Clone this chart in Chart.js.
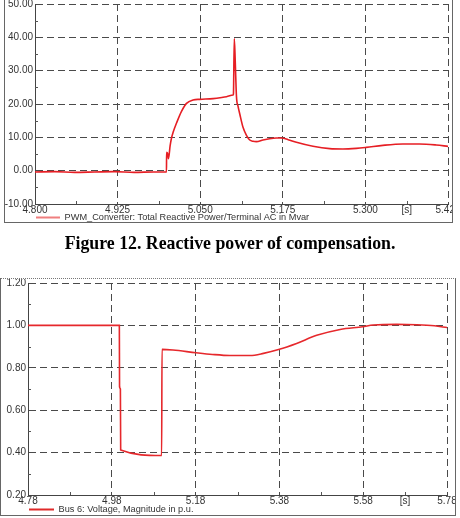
<!DOCTYPE html>
<html><head><meta charset="utf-8">
<script src="https://cdn.jsdelivr.net/npm/chart.js@4.4.0/dist/chart.umd.min.js"></script>
<style>
html,body{margin:0;padding:0;background:#fff;width:460px;height:518px;overflow:hidden;}
body{position:relative;}
canvas{position:absolute;}
.frame{position:absolute;box-sizing:border-box;border:1px solid #666;pointer-events:none;}
#cap{position:absolute;left:0;width:460px;text-align:center;font:bold 17.8px "Liberation Serif","Times New Roman",serif;line-height:18px;color:#000;white-space:nowrap;}
</style></head><body>
<canvas id="c1" width="452" height="232" style="left:0;top:0"></canvas>
<div class="frame" style="left:4px;top:-1px;width:449px;height:224px;border-top:none"></div>
<div id="cap" style="top:234px">Figure 12. Reactive power of compensation.</div>
<canvas id="c2" width="455" height="245" style="left:0;top:279px"></canvas>
<div class="frame" style="left:0;top:278px;width:456px;height:238px;border-top:1px dotted #777"></div>
<script>
// ---- Chart 1: reactive power (Mvar) ----
const qTime = [4.800, 4.830, 4.860, 4.890, 4.920, 4.950, 4.980, 4.999, 4.9991, 5.0005, 5.0020, 5.0045, 5.0066, 5.0090, 5.0142, 5.0217, 5.0293, 5.0393, 5.0494, 5.0695, 5.0898, 5.0995, 5.1003, 5.1016, 5.1030, 5.1049, 5.1073, 5.1099, 5.1148, 5.1200, 5.1250, 5.1300, 5.1350, 5.1450, 5.1550, 5.1650, 5.1730, 5.1830, 5.1956, 5.2207, 5.2459, 5.2660, 5.2863, 5.3014, 5.3265, 5.3567, 5.3819, 5.4072, 5.4250];
const qVal = [-0.4, -0.3, -0.5, -0.4, -0.3, -0.5, -0.4, -0.4, 5.5, 5.2, 3.6, 7.5, 9.8, 11.5, 14.3, 17.8, 20.2, 21.2, 21.4, 21.6, 22.2, 22.7, 23.0, 39.6, 33.0, 22.2, 19.3, 17.0, 13.0, 10.6, 9.2, 8.8, 8.7, 9.2, 9.6, 9.8, 9.8, 9.3, 8.5, 7.3, 6.6, 6.5, 6.7, 7.0, 7.6, 8.0, 8.0, 7.7, 7.3];
const qXTicks = [4.800, 4.925, 5.050, 5.175, 5.300, 5.3625, 5.425];
const qUnitTick = 5.3625;
const qYTicks = [-10, 0, 10, 20, 30, 40, 50];
const qXMinor = [4.8625, 4.9875, 5.1125, 5.2375, 5.3625];
const qYMinor = [-5, 5, 15, 25, 35, 45];
const qLabel = 'PWM_Converter: Total Reactive Power/Terminal AC in Mvar';

// ---- Chart 2: bus voltage (p.u.) ----
const vTime = [4.780, 4.900, 4.998, 4.9985, 5.0005, 5.0012, 5.0990, 5.0998, 5.126, 5.181, 5.220, 5.262, 5.310, 5.342, 5.380, 5.421, 5.469, 5.525, 5.579, 5.604, 5.660, 5.708, 5.750, 5.780];
const vVal = [1.00, 1.00, 1.00, 0.71, 0.70, 0.412, 0.386, 0.887, 0.884, 0.871, 0.863, 0.858, 0.858, 0.868, 0.887, 0.915, 0.953, 0.981, 0.994, 1.002, 1.005, 1.003, 0.998, 0.990];
const vXTicks = [4.78, 4.98, 5.18, 5.38, 5.58, 5.68, 5.78];
const vUnitTick = 5.68;
const vYTicks = [0.2, 0.4, 0.6, 0.8, 1.0, 1.2];
const vXMinor = [4.88, 5.08, 5.28, 5.48, 5.68];
const vYMinor = [0.3, 0.5, 0.7, 0.9, 1.1];
const vLabel = 'Bus 6: Voltage, Magnitude in p.u.';

const FONT = '"Liberation Sans", Arial, sans-serif';

const minorTicks = {
  id: 'minorTicks',
  afterDraw(chart, args, opts) {
    const {ctx, chartArea} = chart;
    const x = chart.scales.x, y = chart.scales.y;
    ctx.save();
    ctx.strokeStyle = '#555';
    ctx.lineWidth = 1;
    ctx.beginPath();
    opts.xMinor.forEach(v => {
      const px = Math.round(x.getPixelForValue(v)) + 0.5;
      ctx.moveTo(px, chartArea.bottom);
      ctx.lineTo(px, chartArea.bottom - 3);
    });
    opts.yMinor.forEach(v => {
      const py = Math.round(y.getPixelForValue(v)) + 0.5;
      ctx.moveTo(chartArea.left, py);
      ctx.lineTo(chartArea.left + 3, py);
    });
    ctx.stroke();
    ctx.restore();
  }
};

function build(id, o) {
  const isUnit = v => Math.abs(v - o.unitTick) < 1e-9;
  return new Chart(document.getElementById(id), {
    type: 'line',
    data: {
      datasets: [{
        label: o.label,
        data: o.time.map((t, i) => ({x: t, y: o.val[i]})),
        borderColor: o.color,
        backgroundColor: o.legendColor,
        borderWidth: 1.6,
        pointRadius: 0,
        cubicInterpolationMode: 'monotone',
        fill: false
      }]
    },
    options: {
      responsive: false,
      animation: false,
      devicePixelRatio: 1,
      layout: {padding: o.padding},
      plugins: {
        tooltip: {enabled: false},
        legend: {
          position: 'bottom',
          align: 'start',
          fullSize: false,
          labels: {
            boxWidth: o.boxW,
            boxHeight: 2,
            padding: 1,
            color: '#333',
            font: {family: FONT, size: 9.2},
            generateLabels(chart) {
              const items = Chart.defaults.plugins.legend.labels.generateLabels(chart);
              items.forEach(it => { it.lineWidth = 0; it.fillStyle = o.legendColor; });
              return items;
            }
          }
        },
        minorTicks: {xMinor: o.xMinor, yMinor: o.yMinor}
      },
      scales: {
        x: {
          type: 'linear',
          min: o.xTicks[0],
          max: o.xTicks[o.xTicks.length - 1],
          afterBuildTicks: s => { s.ticks = o.xTicks.map(v => ({value: v})); },
          afterFit: s => {
            s.height = o.xH; s.paddingLeft = 0; s.paddingRight = 0;
            // let the tick labels overlap the legend row, as in the original plot
            s._computeLabelArea = () => undefined;
          },
          ticks: {
            autoSkip: false, maxRotation: 0, minRotation: 0, padding: 0,
            color: '#333', font: {family: FONT, size: 10},
            callback: v => isUnit(v) ? '[s]' : v.toFixed(o.xDec)
          },
          grid: {
            color: c => (c.tick && isUnit(c.tick.value)) ? 'rgba(0,0,0,0)' : '#4a4a4a',
            lineWidth: 1, drawTicks: false
          },
          border: {display: true, color: '#444', width: 1, dash: [7, 4]}
        },
        y: {
          type: 'linear',
          min: o.yTicks[0],
          max: o.yTicks[o.yTicks.length - 1],
          afterBuildTicks: s => { s.ticks = o.yTicks.map(v => ({value: v})); },
          afterFit: s => { s.width = o.yW; s.paddingTop = 0; s.paddingBottom = 0; },
          ticks: {
            padding: 2, color: '#333', font: {family: FONT, size: 10},
            callback: v => v.toFixed(2)
          },
          grid: {color: '#4a4a4a', lineWidth: 1, drawTicks: false},
          border: {display: true, color: '#444', width: 1, dash: [7, 4]}
        }
      }
    },
    plugins: [minorTicks]
  });
}

build('c1', {
  label: qLabel, time: qTime, val: qVal,
  xTicks: qXTicks, yTicks: qYTicks, xMinor: qXMinor, yMinor: qYMinor, unitTick: qUnitTick,
  xDec: 3, color: 'rgb(230,30,36)', legendColor: '#ef7f7f',
  padding: {left: 4, right: 4, top: 4, bottom: 0}, yW: 31, xH: 7.8, boxW: 24
});
build('c2', {
  label: vLabel, time: vTime, val: vVal,
  xTicks: vXTicks, yTicks: vYTicks, xMinor: vXMinor, yMinor: vYMinor, unitTick: vUnitTick,
  xDec: 2, color: 'rgb(230,40,44)', legendColor: '#e02a2a',
  padding: {left: 0, right: 8, top: 4, bottom: 0}, yW: 28, xH: 8.8, boxW: 25
});
</script>
</body></html>
